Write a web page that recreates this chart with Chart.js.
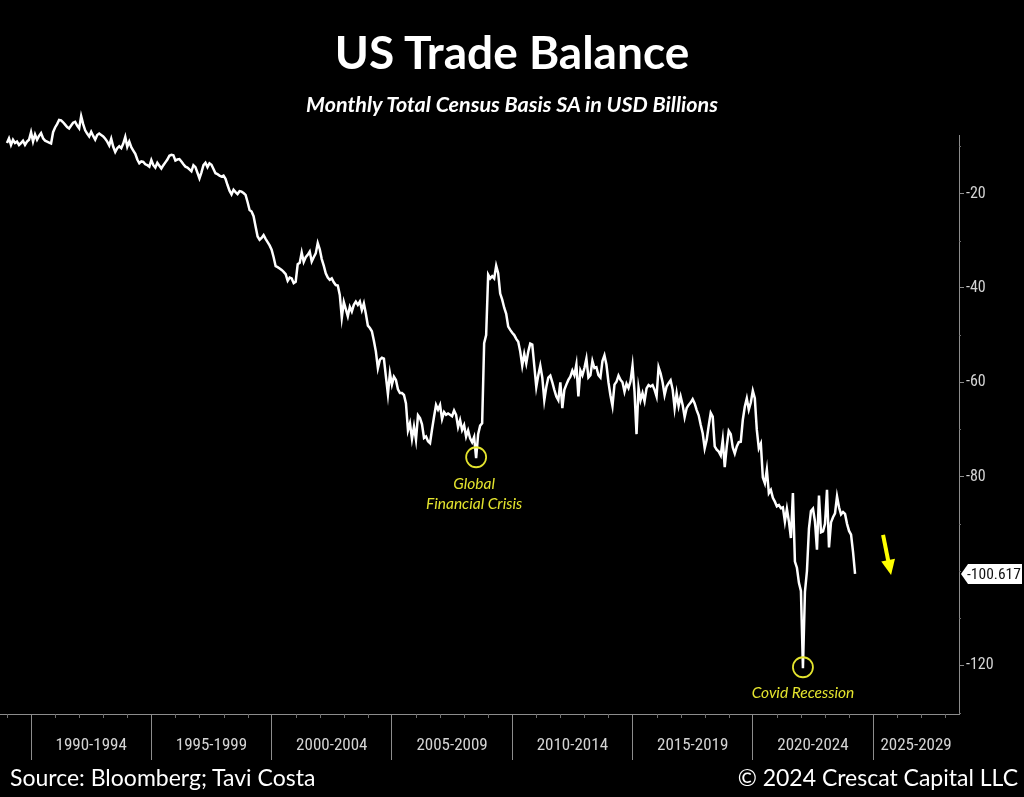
<!DOCTYPE html>
<html>
<head>
<meta charset="utf-8">
<title>US Trade Balance</title>
<script src="https://cdn.jsdelivr.net/npm/chart.js@4.4.1/dist/chart.umd.min.js"></script>
<style>
html, body { margin: 0; padding: 0; background: #000; }
body { width: 1024px; height: 797px; position: relative; overflow: hidden; font-family: Lato, 'Open Sans', sans-serif; color: #fff; }
#tradeChart { position: absolute; left: 0; top: 0; }
.title { position: absolute; left: 0; width: 1024px; top: 22px; text-align: center; font-weight: 700; font-size: 46px; line-height: 60px; }
.subtitle { position: absolute; left: 0; width: 1024px; top: 91px; text-align: center; font-weight: 700; font-style: italic; font-size: 21.5px; line-height: 26px; }
.source { position: absolute; left: 10px; top: 762px; font-size: 23px; line-height: 30px; }
.copy { position: absolute; right: 6px; top: 762px; font-size: 23px; line-height: 30px; }
</style>
</head>
<body>
<canvas id="tradeChart" width="1024" height="797"></canvas>
<div class="title">US Trade Balance</div>
<div class="subtitle">Monthly Total Census Basis SA in USD Billions</div>
<div class="source">Source: Bloomberg; Tavi Costa</div>
<div class="copy">© 2024 Crescat Capital LLC</div>

<script>
// monthly values, USD billions, starting Jan 1989
const startYear = 1989;
const tb1989 = [-9.3,-8.3,-9.7,-8.6,-9.3,-9.0,-9.7,-9.3,-8.8,-9.7,-9.0,-8.6];
const tb1990_94 = [
    -7.0,-9.0,-7.5,-8.6,-7.8,-7.2,-8.3,-8.8,-9.0,-9.2,-9.4,-7.0,
    -6.0,-5.3,-4.4,-4.5,-4.9,-5.4,-5.9,-6.2,-5.6,-5.0,-4.8,-5.6,
    -6.2,-3.6,-5.3,-6.6,-7.3,-7.9,-6.9,-7.8,-8.6,-7.6,-7.3,-7.6,
    -7.9,-8.4,-9.0,-9.8,-8.4,-10.1,-11.2,-10.4,-10.0,-10.4,-9.4,-8.0,
    -10.1,-9.0,-10.2,-10.9,-11.6,-12.8,-13.6,-13.2,-13.3,-13.8,-14.0,-14.3
];
const tb1995_99 = [
    -12.9,-14.0,-14.5,-13.5,-14.1,-14.7,-14.0,-13.4,-12.8,-12.0,-11.8,-11.9,
    -13.0,-12.8,-12.7,-13.2,-13.8,-14.3,-14.5,-14.9,-15.3,-14.0,-14.4,-15.6,
    -16.8,-15.5,-14.0,-13.5,-14.4,-13.6,-13.9,-14.8,-15.7,-15.9,-16.2,-16.4,
    -16.2,-16.9,-18.2,-19.4,-20.2,-19.2,-19.7,-20.1,-19.5,-19.6,-19.9,-20.3,
    -21.8,-23.5,-23.8,-24.8,-27.0,-29.1,-29.8,-29.4,-28.8,-29.6,-30.3,-31.0
];
const tb2000_04 = [
    -31.9,-33.5,-35.4,-35.6,-35.9,-36.2,-36.6,-37.1,-38.5,-37.8,-38.0,-39.0,
    -38.7,-35.0,-34.7,-32.5,-34.5,-33.5,-33.0,-32.3,-34.4,-33.5,-32.7,-30.5,
    -31.8,-33.9,-35.3,-36.9,-37.8,-38.3,-38.0,-38.8,-39.4,-39.5,-41.5,-46.3,
    -43.0,-44.5,-46.0,-44.0,-45.0,-43.6,-42.9,-43.6,-42.9,-44.7,-43.3,-45.5,
    -48.0,-48.5,-49.2,-51.2,-53.5,-57.0,-55.2,-54.8,-55.0,-58.8,-62.5,-58.1
];
const tb2005_09 = [
    -60.5,-58.8,-59.5,-61.5,-62.3,-62.3,-62.7,-64.5,-70.2,-68.7,-72.0,-69.4,
    -72.2,-67.0,-67.6,-68.9,-71.8,-71.5,-72.5,-72.9,-70.0,-67.3,-64.8,-65.8,
    -64.8,-67.8,-66.3,-66.9,-66.6,-66.9,-67.2,-66.0,-66.9,-69.5,-68.0,-70.1,
    -69.1,-71.5,-70.2,-71.9,-72.7,-71.6,-76.1,-71.0,-69.2,-68.7,-51.7,-50.0,
    -37.2,-38.0,-37.5,-38.0,-35.3,-36.9,-41.2,-42.5,-44.2,-45.5,-48.2,-48.9
];
const tb2010_14 = [
    -49.5,-50.0,-50.8,-51.4,-53.5,-56.5,-54.0,-56.0,-53.5,-51.8,-52.0,-56.5,
    -61.0,-58.5,-56.5,-59.0,-63.8,-61.0,-59.0,-58.6,-60.0,-61.6,-63.0,-63.8,
    -60.0,-65.5,-61.6,-60.5,-59.5,-58.8,-57.5,-58.5,-56.2,-63.0,-57.5,-58.5,
    -57.0,-55.0,-59.0,-58.5,-55.5,-57.0,-56.8,-58.5,-59.0,-55.5,-54.3,-56.3,
    -60.0,-62.8,-65.0,-60.5,-59.9,-58.6,-59.5,-60.0,-62.0,-60.3,-61.2,-59.8
];
const tb2015_19 = [
    -56.5,-62.0,-71.0,-61.2,-63.8,-62.3,-64.0,-61.3,-60.6,-60.9,-60.6,-61.6,
    -63.0,-56.8,-58.1,-60.0,-62.7,-60.9,-60.2,-59.6,-61.5,-65.5,-62.3,-65.0,
    -63.0,-64.8,-67.4,-65.5,-64.8,-64.3,-63.6,-64.5,-65.9,-67.0,-69.0,-70.8,
    -74.0,-72.2,-69.2,-66.5,-67.3,-73.6,-74.3,-74.7,-75.5,-72.2,-78.0,-73.6,
    -70.3,-71.0,-73.8,-75.1,-73.6,-72.7,-72.6,-68.0,-65.2,-63.4,-65.8,-64.3
];
const tb2020_24 = [
    -61.8,-63.4,-70.1,-74.0,-73.0,-80.2,-81.4,-78.5,-83.5,-82.8,-84.5,-85.3,
    -86.3,-86.0,-86.7,-86.5,-89.5,-86.8,-89.5,-93.0,-83.5,-98.0,-99.3,-102.5,
    -104.2,-120.6,-104.4,-100.0,-91.0,-87.3,-86.8,-89.5,-95.5,-84.0,-91.8,-91.6,
    -90.0,-82.8,-95.0,-89.7,-88.6,-87.8,-84.2,-86.5,-88.0,-87.5,-87.9,-90.0,
    -91.5,-92.3,-96.0,-100.617
];

const binStarts = [1990, 1995, 2000, 2005, 2010, 2015, 2020, 2025];
const binLabels = ['1990-1994', '1995-1999', '2000-2004', '2005-2009', '2010-2014', '2015-2019', '2020-2024', '2025-2029'];
const yTickValues = [-20, -40, -60, -80, -120];
const yMinorValues = [-10, -30, -50, -70, -90, -100, -110, -130];

const X_MIN = 1988.71, X_MAX = 2028.57;
const Y_MIN = -130.3, Y_MAX = -7.6;
const YELLOW = '#e4e42e';
const axisGrey = '#8c8c8c';
const labelGrey = '#d4d4d4';
const narrowFont = "'Liberation Sans Narrow', 'Roboto Condensed', 'DejaVu Sans Condensed', sans-serif";

const allValues = [].concat(tb1989, tb1990_94, tb1995_99, tb2000_04, tb2005_09, tb2010_14, tb2015_19, tb2020_24);
const points = allValues.map((v, i) => ({ x: startYear + i / 12, y: v }));

// x ticks: bin boundaries (long marks, no label) and bin centres (label, no mark)
let xTicks = [];
binStarts.forEach((s, i) => {
    xTicks.push({ value: s, label: '', boundary: true });
    let end = (i < binStarts.length - 1) ? binStarts[i + 1] : X_MAX;
    xTicks.push({ value: (s + end) / 2, label: binLabels[i], boundary: false });
});

function minIndexBetween(fromYear, toYear) {
    let best = -1;
    points.forEach((p, i) => {
        if (p.x >= fromYear && p.x < toYear && (best < 0 || p.y < points[best].y)) best = i;
    });
    return best;
}
const gfcIdx = minIndexBetween(2005, 2010);
const covidIdx = minIndexBetween(2020, 2025);

const decorations = {
    id: 'decorations',
    afterDatasetsDraw(chart) {
        const c = chart.ctx, xs = chart.scales.x, ys = chart.scales.y;
        c.save();

        // yearly minor ticks on the x axis
        c.strokeStyle = '#6e6e6e';
        c.lineWidth = 1;
        for (let yr = 1989; yr < X_MAX; yr++) {
            if (binStarts.includes(yr)) continue;
            const px = Math.round(xs.getPixelForValue(yr)) + 0.5;
            c.beginPath(); c.moveTo(px, xs.top); c.lineTo(px, xs.top + 4); c.stroke();
        }
        // minor ticks on the y axis
        yMinorValues.forEach(v => {
            const py = Math.round(ys.getPixelForValue(v)) + 0.5;
            c.beginPath(); c.moveTo(ys.left, py); c.lineTo(ys.left + 2, py); c.stroke();
        });

        // circles + notes
        c.strokeStyle = YELLOW;
        c.lineWidth = 1.8;
        c.fillStyle = YELLOW;
        c.textAlign = 'center';
        c.textBaseline = 'middle';
        c.font = 'italic 15.5px Lato, "Open Sans", sans-serif';

        const gx = xs.getPixelForValue(points[gfcIdx].x), gy = ys.getPixelForValue(points[gfcIdx].y);
        c.beginPath(); c.arc(gx, gy - 1, 10, 0, Math.PI * 2); c.stroke();
        c.fillText('Global', gx - 2, gy + 26);
        c.fillText('Financial Crisis', gx - 2, gy + 46);

        const cx = xs.getPixelForValue(points[covidIdx].x), cy = ys.getPixelForValue(points[covidIdx].y);
        c.beginPath(); c.arc(cx, cy - 1, 10, 0, Math.PI * 2); c.stroke();
        c.fillText('Covid Recession', cx, cy + 25);

        // yellow arrow pointing down, next to the latest value
        const last = points[points.length - 1];
        const lx = xs.getPixelForValue(last.x), ly = ys.getPixelForValue(last.y);
        const tipX = lx + 36, tipY = ly + 1, tailX = lx + 28, tailY = ly - 39;
        const ang = Math.atan2(tipY - tailY, tipX - tailX);
        c.strokeStyle = '#ffff00';
        c.fillStyle = '#ffff00';
        c.lineWidth = 4;
        c.beginPath(); c.moveTo(tailX, tailY);
        c.lineTo(tipX - 12 * Math.cos(ang), tipY - 12 * Math.sin(ang)); c.stroke();
        c.beginPath();
        c.moveTo(tipX, tipY);
        c.lineTo(tipX - 15 * Math.cos(ang) + 7 * Math.sin(ang), tipY - 15 * Math.sin(ang) - 7 * Math.cos(ang));
        c.lineTo(tipX - 15 * Math.cos(ang) - 7 * Math.sin(ang), tipY - 15 * Math.sin(ang) + 7 * Math.cos(ang));
        c.closePath(); c.fill();
        c.restore();
    },
    afterDraw(chart) {
        // last value callout on the right axis
        const c = chart.ctx, ys = chart.scales.y;
        const last = allValues[allValues.length - 1];
        const py = ys.getPixelForValue(last);
        const x0 = ys.left + 2;
        c.save();
        c.fillStyle = '#ffffff';
        c.beginPath();
        c.moveTo(x0, py);
        c.lineTo(x0 + 7, py - 10);
        c.lineTo(1022, py - 10);
        c.lineTo(1022, py + 10);
        c.lineTo(x0 + 7, py + 10);
        c.closePath(); c.fill();
        c.fillStyle = '#111';
        c.font = '15.5px ' + narrowFont;
        c.textAlign = 'left';
        c.textBaseline = 'middle';
        c.fillText(last.toFixed(3), x0 + 6, py + 1);
        c.restore();
    }
};

const ctx = document.getElementById('tradeChart').getContext('2d');
const tradeChart = new Chart(ctx, {
    type: 'line',
    data: {
        datasets: [{
            label: 'US Trade Balance',
            data: points,
            borderColor: '#ffffff',
            borderWidth: 2.5,
            pointRadius: 0,
            tension: 0,
            fill: false,
            clip: false
        }]
    },
    options: {
        responsive: false,
        animation: false,
        layout: { padding: { top: 135, left: 0, right: 0, bottom: 0 } },
        plugins: {
            legend: { display: false },
            tooltip: { enabled: false }
        },
        scales: {
            x: {
                type: 'linear',
                min: X_MIN,
                max: X_MAX,
                afterBuildTicks: scale => { scale.ticks = xTicks.map(t => ({ value: t.value })); },
                afterFit: scale => { scale.height = 83; },
                border: { color: axisGrey, width: 1 },
                grid: {
                    drawOnChartArea: false,
                    tickLength: 46,
                    lineWidth: 1,
                    color: c => (xTicks[c.index] && xTicks[c.index].boundary) ? axisGrey : 'rgba(0,0,0,0)'
                },
                ticks: {
                    autoSkip: false,
                    maxRotation: 0,
                    padding: -24,
                    color: labelGrey,
                    font: { family: narrowFont, size: 17 },
                    callback: (v, i) => xTicks[i] ? xTicks[i].label : ''
                }
            },
            y: {
                position: 'right',
                min: Y_MIN,
                max: Y_MAX,
                afterBuildTicks: scale => { scale.ticks = yTickValues.map(v => ({ value: v })); },
                afterFit: scale => { scale.width = 65; },
                border: { color: axisGrey, width: 1 },
                grid: { drawOnChartArea: false, tickLength: 5, color: axisGrey },
                ticks: {
                    padding: 2,
                    color: labelGrey,
                    font: { family: narrowFont, size: 16 },
                    callback: v => String(v)
                }
            }
        }
    },
    plugins: [decorations]
});
</script>
</body>
</html>
